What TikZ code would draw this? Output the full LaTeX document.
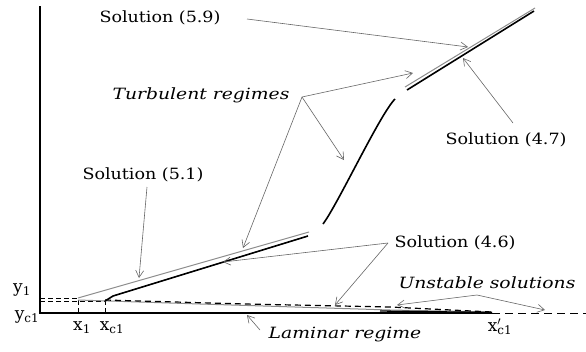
\documentclass[tikz,border=0pt]{standalone}
\usepackage{fontspec}
\setmainfont{DejaVu Serif}
\newfontfamily\labelfont{DejaVu Serif}[FakeStretch=1.13]
\newfontfamily\itlabelfont{DejaVu Serif}[FakeStretch=1.21]
\usetikzlibrary{arrows.meta}
\definecolor{arrowgray}{gray}{0.4}
\definecolor{solgray}{gray}{0.55}
\begin{document}
\begin{tikzpicture}[x=1pt,y=-1pt,
  arr/.style={draw=arrowgray, line width=0.6pt, -{Straight Barb[length=7pt,width=8pt]}},
  lbl/.style={inner sep=0pt, font=\labelfont\fontsize{15.5}{17}\selectfont},
  ilbl/.style={inner sep=0pt, font=\itlabelfont\fontsize{15.5}{17}\selectfont\itshape},
  mlbl/.style={inner sep=0pt, font=\fontsize{17}{19}\selectfont},
  axisline/.style={line width=2.2pt, line join=miter},
  guide/.style={line width=0.8pt, dash pattern=on 5pt off 3pt},
  solblack/.style={line width=1.6pt},
  solgrayline/.style={draw=solgray, line width=1pt},
  unst/.style={line width=1.2pt, dash pattern=on 6pt off 4pt}]
\useasboundingbox (0,0) rectangle (586,351);

% axes
\coordinate (ytop) at (40,6);
\coordinate (O) at (40,313);
\coordinate (xend) at (492,313);
\coordinate (xfar) at (586,313);
\draw[axisline] (ytop) -- (O) -- (xend);
\draw[line width=1pt, dash pattern=on 8pt off 5pt] (xend) -- (xfar);

% guides
\coordinate (y1l) at (40,298);
\coordinate (yc1l) at (40,301);
\coordinate (P1) at (78,298);
\coordinate (Pc1) at (105,301);
\coordinate (P1b) at (78,313);
\coordinate (Pc1b) at (105,313);
\draw[guide] (y1l) -- (P1) -- (P1b);
\draw[guide] (yc1l) -- (Pc1) -- (Pc1b);

% laminar branch (solution 4.6)
\draw[solgrayline] (78,300) -- (200,304) -- (390,310) -- (492,312);
\draw[line width=1.3pt] (380,311) -- (492,312.5);
% unstable dashed
\draw[unst] (105,300) -- (245,304) -- (390,307) -- (492,312);

% lower turbulent branch
\draw[solgrayline] (P1) -- (309,232);
\draw[solblack] (Pc1) -- (113,296) -- (308,236);
% transition curve
\draw[solblack] (323,224) .. controls (338,204) and (380,114) .. (395,99);
% upper branch
\draw[solgrayline] (405,87) -- (535,8);
\draw[solblack] (407,90) -- (534,11);

% labels
\node[lbl] (s59) at (160,18) {Solution (5.9)};
\node[ilbl] (turb) at (201,95) {Turbulent regimes};
\node[lbl] (s51) at (143,175) {Solution (5.1)};
\node[lbl] (s46) at (455,243) {Solution (4.6)};
\node[lbl] (s47) at (506,140) {Solution (4.7)};
\node[ilbl] (unstab) at (487,283) {Unstable solutions};
\node[ilbl] (lam) at (345,335) {Laminar regime};
\node[mlbl] (y1) at (22,290) {y\textsubscript{1}};
\node[mlbl] (yc1) at (27,317) {y\textsubscript{c1}};
\node[mlbl] (x1) at (82,328) {x\textsubscript{1}};
\node[mlbl] (xc1) at (112,328) {x\textsubscript{c1}};
\node[mlbl] (xc1p) at (500,327) {x\rlap{\textsuperscript{$\prime$}}\textsubscript{c1}};

% arrows
\coordinate (a59) at (247,19);
\coordinate (t59) at (468,47);
\draw[arr] (a59) -- (t59);
\coordinate (aT) at (302,97);
\coordinate (tT1) at (413,73);
\coordinate (tT2) at (344,160);
\coordinate (tT3) at (243,248);
\draw[arr] (aT) -- (tT1);
\draw[arr] (aT) -- (tT2);
\draw[arr] (aT) -- (tT3);
\coordinate (a51) at (147,187);
\coordinate (t51) at (139,278);
\draw[arr] (a51) -- (t51);
\coordinate (a46) at (388,243);
\coordinate (t46a) at (223,262);
\coordinate (t46b) at (335,305);
\draw[arr] (a46) -- (t46a);
\draw[arr] (a46) -- (t46b);
\coordinate (a47) at (513,123);
\coordinate (t47) at (463,58);
\draw[arr] (a47) -- (t47);
\coordinate (aU) at (477,295);
\coordinate (tU1) at (397,305);
\coordinate (tU2) at (545,310);
\draw[arr] (aU) -- (tU1);
\draw[arr] (aU) -- (tU2);
\coordinate (aL) at (260,330);
\coordinate (tL) at (247,315);
\draw[arr] (aL) -- (tL);
\end{tikzpicture}
\end{document}
